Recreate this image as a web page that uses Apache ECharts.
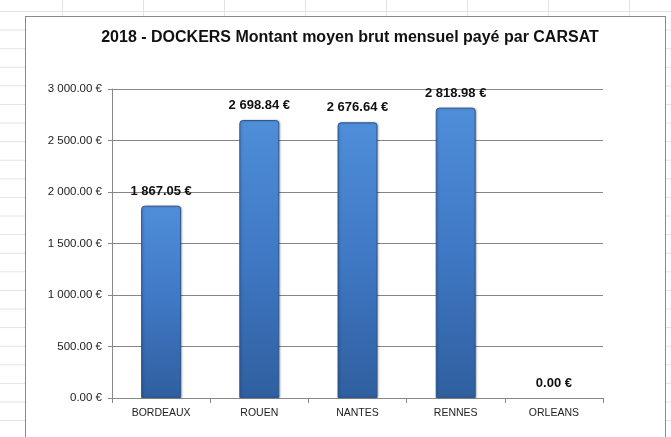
<!DOCTYPE html>
<html>
<head>
<meta charset="utf-8">
<script src="https://cdn.jsdelivr.net/npm/echarts@6/dist/echarts.min.js"></script>
<style>
  html, body { margin: 0; padding: 0; }
  body {
    width: 671px; height: 437px; overflow: hidden; position: relative;
    background-color: #fff;
    background-image:
      linear-gradient(to right, #e3e3e3 1px, transparent 1px),
      linear-gradient(to bottom, #e3e3e3 1px, transparent 1px);
    background-size: 81px 18.6px;
    background-position: 62px 11px;
  }
  #box {
    position: absolute; left: 25px; top: 16px; width: 639px; height: 440px;
    background: #fff; border: 1px solid #8a8a8a;
  }
  #main { position: absolute; left: 0; top: 0; width: 671px; height: 437px; }
</style>
</head>
<body>
<div id="box"></div>
<div id="main"></div>
<script>
// données
var villes = ['BORDEAUX', 'ROUEN', 'NANTES', 'RENNES', 'ORLEANS'];
var montants = [1867.05, 2698.84, 2676.64, 2818.98, 0];

var font = "'Liberation Sans', sans-serif";

function euro(v) {
  var s = Number(v).toFixed(2).split('.');
  var ent = s[0].replace(/\B(?=(\d{3})+(?!\d))/g, ' ');
  return ent + '.' + s[1] + ' €';
}

var myChart = echarts.init(document.getElementById('main'));

var option = {
  animation: false,
  title: {
    text: '2018 - DOCKERS Montant moyen brut mensuel payé par CARSAT',
    left: 345,
    top: 25,
    textAlign: 'center',
    textStyle: { fontFamily: font, fontSize: 16, fontWeight: 'bold', color: '#111' }
  },
  grid: { left: 112, right: 68, top: 89, bottom: 39 },
  xAxis: {
    type: 'category',
    data: villes,
    axisLine: { lineStyle: { color: '#888', width: 1 } },
    axisTick: { show: true, length: 5, lineStyle: { color: '#888' } },
    axisLabel: { fontFamily: font, fontSize: 10.5, color: '#222', margin: 10 }
  },
  yAxis: {
    type: 'value',
    min: 0,
    max: 3000,
    interval: 500,
    axisLine: { show: true, lineStyle: { color: '#888', width: 1 } },
    axisTick: { show: true, length: 4, lineStyle: { color: '#888' } },
    axisLabel: { fontFamily: font, fontSize: 11.5, color: '#222', margin: 10, formatter: euro },
    splitLine: { lineStyle: { color: '#858585', width: 1 } }
  },
  series: [
    {
      type: 'bar',
      // la barre à zéro ne doit pas laisser de trait
      data: montants.map(function (v) {
        return v === 0 ? { value: v, itemStyle: { borderWidth: 0, shadowBlur: 0, opacity: 0 } } : v;
      }),
      barWidth: 40,
      itemStyle: {
        color: new echarts.graphic.LinearGradient(0, 0, 0, 1, [
          { offset: 0, color: '#4f8ed9' },
          { offset: 0.5, color: '#3f78c4' },
          { offset: 1, color: '#2f5f9f' }
        ]),
        borderColor: '#2d5890',
        borderWidth: 1,
        borderRadius: [3, 3, 0, 0],
        shadowColor: 'rgba(0,0,0,0.25)',
        shadowBlur: 2,
        shadowOffsetX: 1
      },
      label: {
        show: true,
        position: 'top',
        distance: 8,
        opacity: 1,
        fontFamily: font,
        fontSize: 13,
        fontWeight: 'bold',
        color: '#111',
        formatter: function (p) { return euro(p.value); }
      }
    }
  ]
};

myChart.setOption(option);
</script>
</body>
</html>
